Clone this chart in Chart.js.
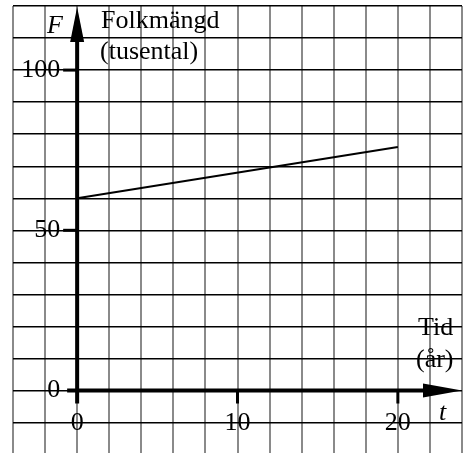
<!DOCTYPE html>
<html>
<head>
<meta charset="utf-8">
<script src="https://cdn.jsdelivr.net/npm/chart.js@4/dist/chart.umd.min.js"></script>
<style>
  html, body { margin: 0; padding: 0; background: #fff; }
  #wrap { width: 464px; height: 453px; }
</style>
</head>
<body>
<div id="wrap"><canvas id="mainChart" width="464" height="453"></canvas></div>
<script>
// data
const years = [0, 20];
const population = [60, 76];
const xTickLabels = [0, 10, 20];
const yTickLabels = [0, 50, 100];

const serif = "'Liberation Serif', 'Times New Roman', serif";

const axesPlugin = {
    id: 'axesPlugin',
    afterDatasetsDraw(chart) {
        const ctx = chart.ctx;
        const xs = chart.scales.x;
        const ys = chart.scales.y;
        const area = chart.chartArea;
        const x0 = xs.getPixelForValue(0);
        const y0 = ys.getPixelForValue(0);

        ctx.save();
        ctx.strokeStyle = '#000';
        ctx.fillStyle = '#000';

        // y axis with arrow
        ctx.lineWidth = 4;
        ctx.beginPath();
        ctx.moveTo(x0, y0 + 13);
        ctx.lineTo(x0, area.top + 30);
        ctx.stroke();
        ctx.beginPath();
        ctx.moveTo(x0, area.top + 1);
        ctx.lineTo(x0 - 7, area.top + 36);
        ctx.lineTo(x0 + 7, area.top + 36);
        ctx.closePath();
        ctx.fill();

        // x axis with arrow
        ctx.beginPath();
        ctx.moveTo(x0 - 10, y0);
        ctx.lineTo(area.right - 30, y0);
        ctx.stroke();
        ctx.beginPath();
        ctx.moveTo(area.right, y0);
        ctx.lineTo(area.right - 39, y0 - 7);
        ctx.lineTo(area.right - 39, y0 + 7);
        ctx.closePath();
        ctx.fill();

        // small ticks
        ctx.lineWidth = 3;
        yTickLabels.filter(v => v !== 0).forEach(v => {
            const y = ys.getPixelForValue(v);
            ctx.beginPath();
            ctx.moveTo(x0 - 14, y);
            ctx.lineTo(x0, y);
            ctx.stroke();
        });
        xTickLabels.filter(v => v !== 0).forEach(v => {
            const x = xs.getPixelForValue(v);
            ctx.beginPath();
            ctx.moveTo(x, y0);
            ctx.lineTo(x, y0 + 13);
            ctx.stroke();
        });

        // tick labels
        ctx.font = '26px ' + serif;
        ctx.textBaseline = 'middle';
        ctx.textAlign = 'right';
        yTickLabels.forEach(v => {
            ctx.fillText(String(v), x0 - 17, ys.getPixelForValue(v));
        });
        ctx.textAlign = 'center';
        xTickLabels.forEach(v => {
            ctx.fillText(String(v), xs.getPixelForValue(v), y0 + 33);
        });

        // axis titles
        ctx.textBaseline = 'alphabetic';
        ctx.textAlign = 'left';
        ctx.fillText('Folkmängd', 101, 28);
        ctx.fillText('(tusental)', 100, 59);
        ctx.fillText('Tid', 418, 335);
        ctx.fillText('(år)', 416, 367);
        ctx.font = 'italic 26px ' + serif;
        ctx.fillText('F', 47, 33);
        ctx.fillText('t', 439, 420);
        ctx.restore();
    }
};

document.addEventListener("DOMContentLoaded", function () {
    const ctx = document.getElementById('mainChart').getContext('2d');

    new Chart(ctx, {
        type: 'scatter',
        data: {
            datasets: [{
                label: 'Folkmängd',
                data: years.map((t, i) => ({ x: t, y: population[i] })),
                showLine: true,
                borderColor: '#000',
                borderWidth: 2,
                pointRadius: 0,
                fill: false
            }]
        },
        options: {
            responsive: false,
            animation: false,
            events: [],
            layout: { padding: { left: 13, right: 2, top: 6, bottom: 0 } },
            plugins: {
                legend: { display: false },
                tooltip: { enabled: false }
            },
            scales: {
                x: {
                    type: 'linear',
                    min: -4,
                    max: 24,
                    ticks: { display: false, stepSize: 2 },
                    grid: { color: '#8a8a8a', lineWidth: 2, drawTicks: false },
                    border: { display: false }
                },
                y: {
                    type: 'linear',
                    min: -19.5,
                    max: 120,
                    afterBuildTicks: (scale) => {
                        scale.ticks = scale.ticks.filter(t => t.value % 10 === 0);
                    },
                    ticks: { display: false, stepSize: 10 },
                    grid: { color: '#000', lineWidth: 1.4, drawTicks: false },
                    border: { display: false }
                }
            }
        },
        plugins: [axesPlugin]
    });
});
</script>
</body>
</html>
